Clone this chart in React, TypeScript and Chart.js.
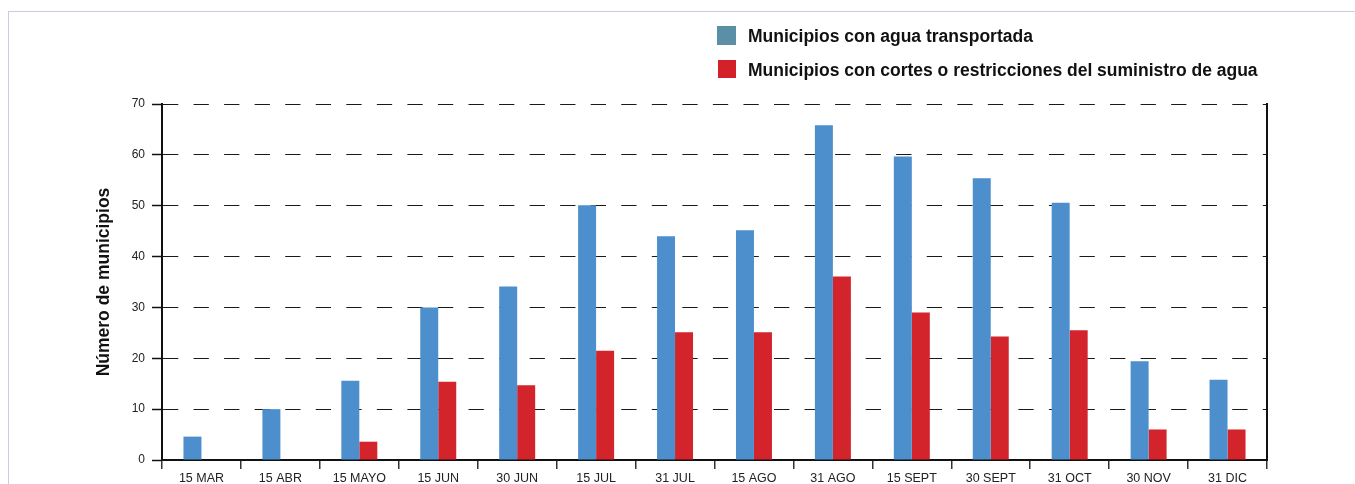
import React, { useEffect, useRef } from "react";
import { Chart, registerables } from "chart.js";

Chart.register(...registerables);

const categories = [
  "15 MAR", "15 ABR", "15 MAYO", "15 JUN", "30 JUN", "15 JUL", "31 JUL",
  "15 AGO", "31 AGO", "15 SEPT", "30 SEPT", "31 OCT", "30 NOV", "31 DIC",
];
const aguaTransportada = [4.6, 10, 15.6, 30, 34.1, 50.1, 44.0, 45.2, 65.8, 59.7, 55.4, 50.6, 19.4, 15.8];
const cortesRestricciones = [0, 0, 3.6, 15.4, 14.7, 21.5, 25.1, 25.1, 36.1, 29.0, 24.3, 25.5, 6.0, 6.0];
const seriesLabels = [
  "Municipios con agua transportada",
  "Municipios con cortes o restricciones del suministro de agua",
];
const yTitle = "Número de municipios";
const yMin = 0;
const yMax = 70;
const yStep = 10;

const FONT = "'Liberation Sans', Arial, Helvetica, sans-serif";
const BAR_BLUE = "#4d8fcd";
const BAR_RED = "#d3232b";
const LEG_BLUE = "#5a8fa6";
const LEG_RED = "#d42029";

export default function App() {
  const canvasRef = useRef<HTMLCanvasElement | null>(null);

  useEffect(() => {
    const canvas = canvasRef.current;
    if (!canvas) return;
    const chart = new Chart(canvas, {
      type: "bar",
      data: {
        labels: categories,
        datasets: [
          {
            label: seriesLabels[0],
            data: aguaTransportada,
            backgroundColor: BAR_BLUE,
            borderWidth: 0,
            categoryPercentage: 0.456,
            barPercentage: 1,
          },
          {
            label: seriesLabels[1],
            data: cortesRestricciones,
            backgroundColor: BAR_RED,
            borderWidth: 0,
            categoryPercentage: 0.456,
            barPercentage: 1,
          },
        ],
      },
      options: {
        responsive: false,
        animation: false,
        layout: { padding: { left: 0, top: 96, right: 80, bottom: 0 } },
        plugins: {
          legend: { display: false },
          tooltip: { enabled: false },
        },
        scales: {
          x: {
            offset: true,
            grid: {
              offset: true,
              drawOnChartArea: false,
              drawTicks: true,
              tickLength: 9,
              color: "#333",
              lineWidth: 1.5,
            },
            border: { display: true, color: "#111", width: 2 },
            ticks: {
              font: { family: FONT, size: 12.5 },
              color: "#222",
              padding: 2,
              maxRotation: 0,
              autoSkip: false,
            },
            afterFit: (s: any) => {
              s.height = 24;
            },
          },
          y: {
            min: yMin,
            max: yMax,
            ticks: {
              stepSize: yStep,
              padding: 7,
              font: { family: FONT, size: 12 },
              color: "#222",
            },
            grid: {
              color: "#1a1a1a",
              lineWidth: 1,
              tickLength: 10,
              tickColor: "#111",
              tickWidth: 1.5,
            },
            border: { display: true, color: "#111", width: 2, dash: [15.3, 15.25] },
            title: {
              display: true,
              text: yTitle,
              color: "#111",
              font: { family: FONT, size: 17.5, weight: "bold" },
              padding: { top: 86, bottom: 0 },
            },
            afterFit: (s: any) => {
              s.width = 154;
            },
          },
          y2: {
            position: "right",
            display: true,
            min: yMin,
            max: yMax,
            ticks: { display: false },
            grid: { drawOnChartArea: false, drawTicks: false },
            border: { display: true, color: "#111", width: 2 },
            afterFit: (s: any) => {
              s.width = 0;
            },
          },
        },
      },
    } as any);
    return () => chart.destroy();
  }, []);

  const legendText: React.CSSProperties = {
    position: "absolute",
    left: 740,
    fontFamily: FONT,
    fontWeight: "bold",
    fontSize: 17.5,
    color: "#111",
    whiteSpace: "nowrap",
    lineHeight: "20px",
  };

  return (
    <>
      <div
        style={{
          position: "fixed",
          left: 8,
          top: 11,
          width: 2000,
          height: 1000,
          borderTop: "1px solid #c5cde3",
          borderLeft: "1px solid #c5cde3",
          pointerEvents: "none",
        }}
      />
      <div style={{ position: "relative", width: 1339, height: 476 }}>
        <canvas
          ref={canvasRef}
          width={1339}
          height={476}
          style={{ position: "absolute", left: 0, top: 0, width: 1339, height: 476 }}
        />
        <div style={{ position: "absolute", left: 709, top: 18, width: 19, height: 19, background: LEG_BLUE }} />
        <div style={{ ...legendText, top: 18 }}>{seriesLabels[0]}</div>
        <div style={{ position: "absolute", left: 710, top: 52, width: 18, height: 18, background: LEG_RED }} />
        <div style={{ ...legendText, top: 52 }}>{seriesLabels[1]}</div>
      </div>
    </>
  );
}
